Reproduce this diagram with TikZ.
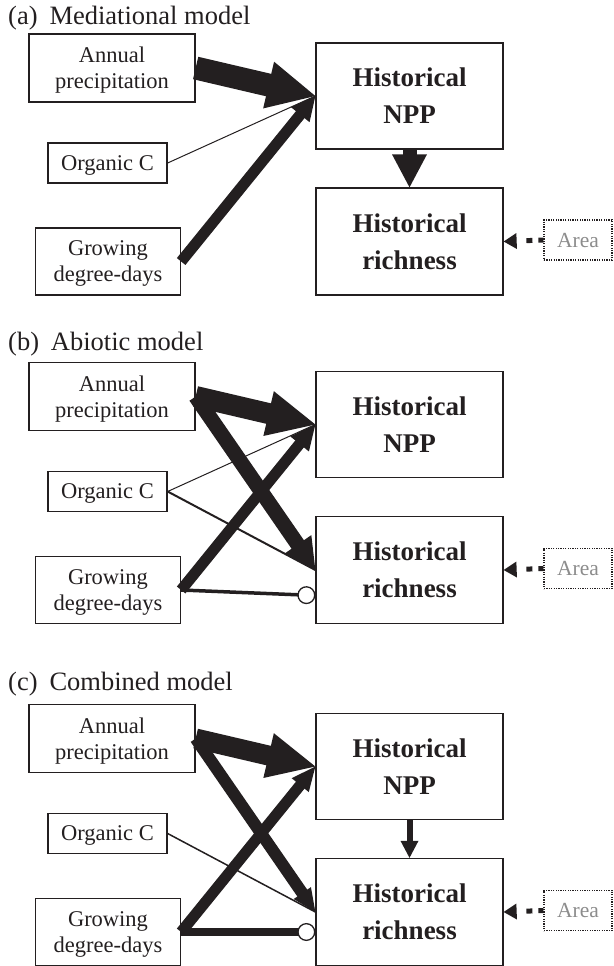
\documentclass[tikz,border=0pt]{standalone}
\usepackage{fontspec}
\setmainfont{Liberation Serif}
\usetikzlibrary{arrows.meta,calc}
\definecolor{ink}{RGB}{35,31,32}
% arrow with filled triangular head: [style]{from}{to}{line width}{head length}{half head width}
\newcommand\harrow[6][]{%
  \pgfmathsetmacro\hshort{0.8*#5}%
  \draw[link,#1,line width=#4pt,shorten >=\hshort pt] (#2) -- (#3);
  \fill[ink] (#3) -- ($(#3)!#5pt!(#2)!#6pt!90:(#2)$) -- ($(#3)!#5pt!(#2)!#6pt!-90:(#2)$) -- cycle;
}
\newcommand\panelboxes[1]{%
  \node[box,minimum width=166pt,minimum height=68pt] (#1-ap) at (112,68) {Annual\\precipitation};
  \node[mainbox,minimum width=187pt,minimum height=106pt] (#1-npp) at (409.5,96) {Historical\\NPP};
  \node[box,minimum width=119pt,minimum height=40pt] (#1-oc) at (107.5,163) {Organic C};
  \node[box,minimum width=145pt,minimum height=67pt] (#1-gdd) at (108,261.5) {Growing\\degree-days};
  \node[mainbox,minimum width=187pt,minimum height=107pt] (#1-rich) at (409.5,241.5) {Historical\\richness};
  \node[areabox,minimum width=68pt,minimum height=40pt] (#1-area) at (578,240) {Area};
  \harrow[dash pattern=on 5pt off 6pt on 6pt off 30pt]{#1-area.west}{#1-rich.east}{5}{13}{8}
}
\begin{document}
\begin{tikzpicture}[x=1pt,y=-1pt,
  box/.style={draw=ink,line width=1.3pt,inner sep=0pt,align=center,text depth=-1pt,
    font=\fontsize{22.5}{26}\selectfont,text=ink},
  mainbox/.style={box,text depth=-6pt,font=\bfseries\fontsize{27}{37}\selectfont},
  areabox/.style={draw=ink,dash pattern=on 1.2pt off 1.2pt,line width=1.2pt,inner sep=0pt,
    text depth=-6pt,font=\fontsize{21.5}{24}\selectfont,text=black!45},
  paneltitle/.style={anchor=base west,inner sep=0pt,font=\fontsize{26.5}{28}\selectfont,text=ink},
  link/.style={draw=ink,line cap=butt},
  ring/.style={-{Circle[length=18pt,width=18pt,fill=white,line width=1.3pt 0 0]}}
]
\useasboundingbox (0,0) rectangle (613,966);

% ---------- (a) ----------
\node[paneltitle] (ta) at (8,25) {(a)\hspace{0.45em}Mediational model};
\begin{scope}
\panelboxes{a}
\harrow{a-ap.east}{a-npp.west}{23}{48}{24}
\draw[link,line width=1pt] (a-oc.east) -- (a-npp.west);
\harrow{a-gdd.east}{a-npp.west}{11}{24}{12}
\harrow{a-npp.south}{a-rich.north}{14}{33}{17.5}
\end{scope}

% ---------- (b) ----------
\node[paneltitle] (tb) at (8,350) {(b)\hspace{0.45em}Abiotic model};
\begin{scope}[shift={(0,328.5)}]
\panelboxes{b}
\harrow{b-ap.east}{b-rich.west}{15}{31}{16.5}
\harrow{b-ap.east}{b-npp.west}{21}{48}{23}
\draw[link,line width=1pt] (b-oc.east) -- (b-npp.west);
\draw[link,line width=2pt] (b-oc.east) -- (b-rich.west);
\harrow{b-gdd.east}{b-npp.west}{11}{25}{12}
\draw[link,line width=3.5pt,ring] (b-gdd.east) -- ([yshift=-25.5pt]b-rich.west);
\end{scope}

% ---------- (c) ----------
\node[paneltitle] (tc) at (8,690) {(c)\hspace{0.45em}Combined model};
\begin{scope}[shift={(0,670.5)}]
\panelboxes{c}
\harrow{c-ap.east}{c-rich.west}{12}{23}{10.5}
\harrow{c-ap.east}{c-npp.west}{20}{48}{23}
\draw[link,line width=1.5pt] (c-oc.east) -- (c-rich.west);
\harrow{c-gdd.east}{c-npp.west}{11}{24}{11}
\draw[link,line width=8pt,ring] (c-gdd.east) -- (c-gdd.east -| c-rich.west);
\harrow{c-npp.south}{c-rich.north}{6}{17}{9}
\end{scope}
\end{tikzpicture}
\end{document}
